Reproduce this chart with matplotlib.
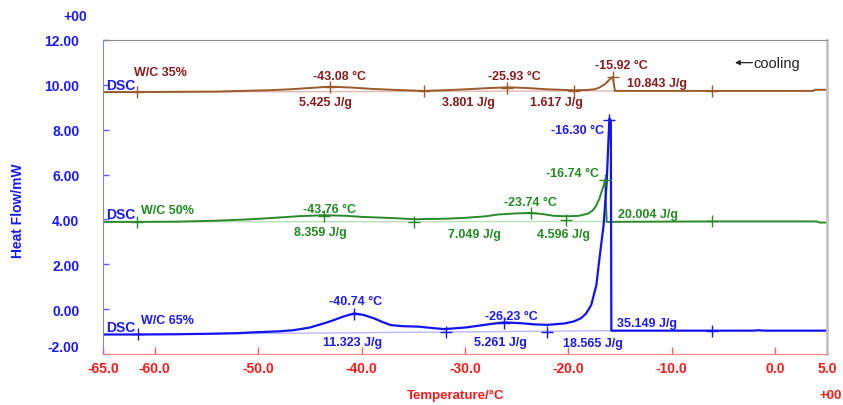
import matplotlib
matplotlib.use("Agg")
import matplotlib.pyplot as plt

plt.rcParams['font.family'] = ['Liberation Sans', 'DejaVu Sans']
plt.rcParams['axes.unicode_minus'] = False

# W/C 35% curve
t35 = [-65, -62, -58, -54, -51.7, -49, -47, -45, -43.1, -41, -39, -37, -34, -32, -30,
       -28, -25.9, -24, -22, -19.5, -18.3, -17.5, -17, -16.5, -16.1, -15.7, -15.6, -15.5,
       -12, -8, -4, 0, 2, 3.7, 3.8, 5]
v35 = [9.68, 9.68, 9.69, 9.70, 9.73, 9.76, 9.80, 9.86, 9.92, 9.88, 9.82, 9.78, 9.73, 9.76, 9.80,
       9.85, 9.89, 9.86, 9.80, 9.76, 9.77, 9.80, 9.88, 10.02, 10.20, 10.36, 10.00, 9.73,
       9.73, 9.73, 9.73, 9.73, 9.73, 9.73, 9.78, 9.78]

# W/C 50% curve
t50 = [-65, -62, -58, -54.3, -51, -49.5, -47.5, -46.2, -43.6, -41.5, -39.8, -37, -34.9, -32,
       -30, -28, -26.8, -25, -23.6, -22.5, -21.4, -20.2, -19, -18.1, -17.6, -17.3, -17.0,
       -16.8, -16.6, -16.45, -16.3, -12, -6, 0, 4, 4.3, 5]
v50 = [3.89, 3.89, 3.90, 3.94, 4.00, 4.04, 4.10, 4.14, 4.19, 4.16, 4.11, 4.06, 4.01, 4.03,
       4.07, 4.14, 4.22, 4.27, 4.29, 4.24, 4.16, 4.14, 4.16, 4.26, 4.42, 4.63, 4.93,
       5.23, 5.50, 5.78, 3.89, 3.90, 3.91, 3.91, 3.91, 3.86, 3.86]

# W/C 65% curve
t65 = [-65, -62, -58, -55, -52, -50.7, -48, -46.6, -45, -44.2, -43.4, -42.7, -41.7, -40.7,
       -39.8, -38.8, -38, -37.2, -36, -34.5, -33, -32, -30, -28.7, -27.5, -26.2, -24.5,
       -23.3, -22, -20.4, -19.5, -18.8, -18.3, -17.8, -17.3, -17.0, -16.6, -16.3, -16.04,
       -15.9, -15.85, -10, -4, -2.2, -1.6, -1.0, 0, 5]
v65 = [-1.13, -1.13, -1.12, -1.10, -1.07, -1.04, -0.99, -0.94, -0.82, -0.71, -0.60, -0.49,
       -0.32, -0.19, -0.26, -0.41, -0.57, -0.71, -0.76, -0.78, -0.85, -0.89, -0.82, -0.74,
       -0.66, -0.59, -0.63, -0.68, -0.70, -0.64, -0.55, -0.41, -0.20, 0.18, 1.07, 2.26,
       3.74, 5.67, 8.50, 8.40, -0.96, -0.96, -0.96, -0.96, -0.94, -0.96, -0.96, -0.96]

# integration baselines (start, end)
base35_t, base35_v = [-61.7, -15.5], [9.68, 9.73]
base50_t, base50_v = [-61.7, -16.3], [3.89, 3.91]
base65_t, base65_v = [-61.6, -15.85], [-1.13, -0.96]

# evaluation markers
mk35_t = [-61.7, -43.1, -34.0, -25.9, -19.5, -15.7, -6.1]
mk35_v = [9.68, 9.90, 9.73, 9.87, 9.73, 10.33, 9.73]
mk50_t = [-61.7, -43.6, -34.9, -23.6, -20.2, -16.45, -6.1]
mk50_v = [3.89, 4.17, 3.89, 4.27, 3.96, 5.75, 3.91]
mk65_t = [-61.6, -40.7, -31.8, -26.2, -22.1, -16.04, -6.1]
mk65_v = [-1.13, -0.21, -1.0, -0.60, -1.0, 8.42, -0.96]

# annotations: (text, T, value)
notes35 = [("-43.08 °C", -42.1, 10.40), ("5.425 J/g", -43.5, 9.24),
           ("-25.93 °C", -25.2, 10.40), ("3.801 J/g", -29.7, 9.24),
           ("1.617 J/g", -21.2, 9.24), ("-15.92 °C", -14.9, 10.87),
           ("10.843 J/g", -11.4, 10.10)]
notes50 = [("-43.76 °C", -43.1, 4.45), ("8.359 J/g", -44.0, 3.45),
           ("7.049 J/g", -29.1, 3.33), ("4.596 J/g", -20.5, 3.33),
           ("-23.74 °C", -23.7, 4.78), ("-16.74 °C", -19.65, 6.08),
           ("20.004 J/g", -12.3, 4.26)]
notes65 = [("-40.74 °C", -40.55, 0.36), ("11.323 J/g", -40.9, -1.45),
           ("-26.23 °C", -25.5, -0.29), ("5.261 J/g", -26.6, -1.45),
           ("18.565 J/g", -17.6, -1.53), ("-16.30 °C", -19.1, 8.0),
           ("35.149 J/g", -12.45, -0.61)]

xticks = [-65, -60, -50, -40, -30, -20, -10, 0, 5]
yticks = [-2, 0, 2, 4, 6, 8, 10, 12]

c35, t35c, b35 = "#9a5a2c", "#8b1c1c", "#e0b8b0"
c50, t50c, b50 = "#2a8a2a", "#228b22", "#b8e0b8"
c65, t65c, b65 = "#1414f0", "#1a1aff", "#b8b8ff"

fig = plt.figure(figsize=(8.43, 4.06), dpi=100)
ax = fig.add_axes([103 / 843, 1 - 355 / 406, 724 / 843, 314 / 406])

for bt, bv, bc in [(base35_t, base35_v, b35), (base50_t, base50_v, b50), (base65_t, base65_v, b65)]:
    ax.plot(bt, bv, color=bc, lw=1.0)

ax.plot(t35, v35, color=c35, lw=1.4)
ax.plot(t50, v50, color=c50, lw=1.4)
ax.plot(t65, v65, color=c65, lw=1.6)

ax.plot(mk35_t, mk35_v, ls="none", marker="+", ms=8, mew=1, color=c35)
ax.plot(mk50_t, mk50_v, ls="none", marker="+", ms=8, mew=1, color=c50)
ax.plot(mk65_t, mk65_v, ls="none", marker="+", ms=8, mew=1, color=c65)

for notes, col in [(notes35, t35c), (notes50, t50c), (notes65, t65c)]:
    for s, x, y in notes:
        ax.text(x, y, s, color=col, fontsize=9, fontweight="bold", ha="center", va="center")

ax.text(-62.0, 10.58, "W/C 35%", color=t35c, fontsize=9, fontweight="bold", va="center")
ax.text(-61.3, 4.44, "W/C 50%", color=t50c, fontsize=9, fontweight="bold", va="center")
ax.text(-61.3, -0.50, "W/C 65%", color=t65c, fontsize=9, fontweight="bold", va="center")
for y in [10.0, 4.22, -0.78]:
    ax.text(-64.7, y, "DSC", color="#1a1aff", fontsize=10, fontweight="bold", va="center")

# cooling direction note
ax.annotate("", xy=(-3.9, 10.99), xytext=(-2.2, 10.99),
            arrowprops=dict(arrowstyle="-|>", color="#222222", lw=0.9,
                            mutation_scale=7, shrinkA=0, shrinkB=0))
ax.text(-2.15, 10.99, "cooling", color="#222222", fontsize=10.5, ha="left", va="center")

ax.set_xlim(-65, 5)
ax.set_ylim(-2, 12)
ax.set_xticks(xticks)
ax.set_xticklabels([f"{v:.1f}" for v in xticks])
ax.set_yticks(yticks)
ax.set_yticklabels([f"{v:.2f}" for v in yticks])

ax.tick_params(axis="x", direction="in", length=5, width=1, color="#ff6060",
               labelcolor="#ff1a1a", labelsize=10, pad=5)
ax.tick_params(axis="y", direction="in", length=4, width=1, color="#6060ff",
               labelcolor="#1a1aff", labelsize=10, pad=17)
for lab in ax.get_xticklabels() + ax.get_yticklabels():
    lab.set_fontweight("bold")
ax.get_yticklabels()[0].set_va("bottom")

ax.spines["left"].set_color("#8080ff")
ax.spines["bottom"].set_color("#ff8080")
ax.spines["top"].set_color("#8c8c8c")
ax.spines["right"].set_color("#c4c4c4")
ax.spines["right"].set_linewidth(2)

fig.text(18 / 843, 1 - 211 / 406, "Heat Flow/mW", color="#1a1aff", fontsize=10,
         fontweight="bold", rotation=90, ha="center", va="center")
fig.text(456 / 843, 1 - 396 / 406, "Temperature/°C", color="#ff1a1a", fontsize=9.5,
         fontweight="bold", ha="center", va="center")
fig.text(75 / 843, 1 - 17 / 406, "+00", color="#1a1aff", fontsize=10,
         fontweight="bold", ha="center", va="center")
fig.text(819 / 843, 1 - 396 / 406, "+00", color="#ff1a1a", fontsize=9.5,
         fontweight="bold", ha="left", va="center")

fig.savefig("out.png", dpi=100)
